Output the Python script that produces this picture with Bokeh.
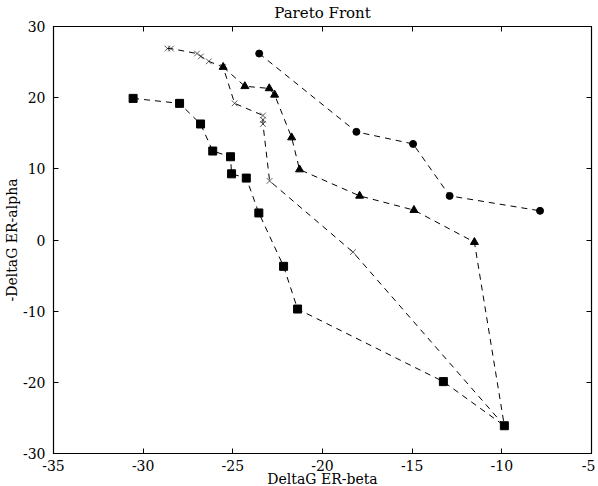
from bokeh.plotting import figure
from bokeh.models import Range1d, LinearAxis, SingleIntervalTicker, PrintfTickFormatter, CustomJSTickFormatter
from bokeh.embed import file_html
from bokeh.resources import INLINE

# ---- data ----
circle_x = [-23.53, -18.11, -14.95, -12.91, -7.87]
circle_y = [26.2, 15.2, 13.5, 6.2, 4.1]

tri_x = [-25.54, -24.33, -22.97, -22.67, -21.72, -21.28, -17.93, -14.90, -11.53, -9.86]
tri_y = [24.3, 21.6, 21.3, 20.4, 14.4, 9.9, 6.2, 4.2, -0.3, -26.1]

cross_x = [-28.65, -28.45, -27.0, -26.78, -26.34, -25.54, -24.9, -23.32, -23.32, -23.32, -22.95, -18.3, -9.86]
cross_y = [26.9, 26.9, 26.2, 25.8, 25.1, 24.3, 19.2, 17.5, 16.9, 16.3, 8.3, -1.7, -26.1]

square_x = [-30.56, -27.97, -26.8, -26.12, -25.13, -25.07, -24.25, -23.55, -22.17, -21.39, -13.26, -9.86]
square_y = [19.9, 19.2, 16.3, 12.5, 11.7, 9.3, 8.7, 3.8, -3.7, -9.7, -19.9, -26.1]

FONT = "DejaVu Serif"

p = figure(width=595, height=489, output_backend="svg", toolbar_location=None,
           x_range=Range1d(-35, -5), y_range=Range1d(-30, 30),
           title="Pareto Front",
           min_border_left=48, min_border_right=0, min_border_top=25, min_border_bottom=0)

p.title.text_font = FONT
p.title.text_font_size = "15px"
p.title.text_font_style = "normal"
p.title.text_color = "black"
p.title.align = "center"
p.title.standoff = 2
p.title.offset = 0

p.grid.visible = False
p.outline_line_color = "black"
p.outline_line_width = 1.2

p.xaxis.ticker = SingleIntervalTicker(interval=5)
p.yaxis.ticker = SingleIntervalTicker(interval=10)
p.xaxis.formatter = PrintfTickFormatter(format="%d")
p.yaxis.formatter = PrintfTickFormatter(format="%d")
p.xaxis.axis_label = "DeltaG ER-beta"
p.yaxis.axis_label = "-DeltaG ER-alpha"
for ax in (p.xaxis[0], p.yaxis[0]):
    ax.axis_label_text_font = FONT
    ax.axis_label_text_font_size = "14px"
    ax.axis_label_text_font_style = "normal"
    ax.axis_label_text_color = "black"
    ax.major_label_text_font = FONT
    ax.major_label_text_font_size = "14px"
    ax.major_label_text_color = "black"
    ax.major_tick_in = 5
    ax.major_tick_out = 0
    ax.minor_tick_line_color = None
    ax.axis_line_color = "black"
p.xaxis.major_label_standoff = 2
p.xaxis.axis_label_standoff = -3
p.yaxis.major_label_standoff = 4
p.yaxis.axis_label_standoff = 0

# mirrored ticks on top and right
blank = CustomJSTickFormatter(code="return ''")
top = LinearAxis(ticker=SingleIntervalTicker(interval=5), formatter=blank,
                 major_tick_in=5, major_tick_out=0, minor_tick_line_color=None,
                 major_label_standoff=0)
right = LinearAxis(ticker=SingleIntervalTicker(interval=10), formatter=blank,
                   major_tick_in=5, major_tick_out=0, minor_tick_line_color=None,
                   major_label_standoff=0)
p.add_layout(top, "above")
p.add_layout(right, "right")

dash = "6 5"
for xs, ys in ((circle_x, circle_y), (tri_x, tri_y), (cross_x, cross_y), (square_x, square_y)):
    p.line(xs, ys, line_color="black", line_dash=dash, line_width=1)

p.scatter(cross_x[:-1], cross_y[:-1], marker="x", size=8, line_color="#333333", line_width=0.8)
p.scatter(circle_x, circle_y, marker="circle", size=7, fill_color="black", line_color="black")
p.scatter(tri_x[:-1], tri_y[:-1], marker="triangle", size=8, fill_color="black", line_color="black")
p.scatter(square_x, square_y, marker="square", size=8, fill_color="black", line_color="black")

open("out.html", "w").write(file_html(p, INLINE))
